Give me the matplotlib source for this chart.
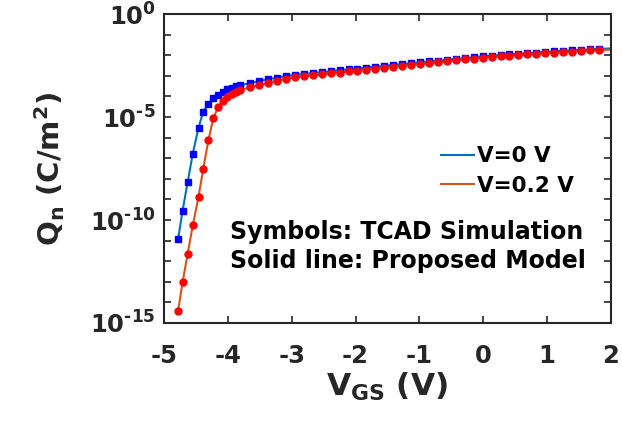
import numpy as np
import matplotlib
matplotlib.use('agg')
import matplotlib.pyplot as plt

plt.rcParams['font.family'] = ['DejaVu Sans']
plt.rcParams['font.weight'] = 'bold'
plt.rcParams['axes.labelweight'] = 'bold'
plt.rcParams['mathtext.fontset'] = 'custom'
plt.rcParams['mathtext.rm'] = 'DejaVu Sans:bold'
plt.rcParams['mathtext.bf'] = 'DejaVu Sans:bold'
plt.rcParams['mathtext.it'] = 'DejaVu Sans:bold'
plt.rcParams['mathtext.default'] = 'rm'

# gate voltage of the TCAD points (V)
vgs = [-4.78, -4.71, -4.63, -4.55, -4.46, -4.385, -4.305, -4.228, -4.15, -4.071,
       -4.009, -3.94, -3.873, -3.81, -3.65, -3.51, -3.37, -3.23, -3.09,
       -2.95, -2.81, -2.67, -2.53, -2.39, -2.25, -2.11, -1.97, -1.83, -1.69,
       -1.55, -1.41, -1.27, -1.13, -0.99, -0.85, -0.71, -0.57, -0.43, -0.29,
       -0.15, -0.01, 0.13, 0.27, 0.41, 0.55, 0.69, 0.83, 0.97, 1.11, 1.25,
       1.39, 1.53, 1.67, 1.81]

# log10(Qn) for V=0 V
logq_v0 = [-10.94, -9.55, -8.17, -6.78, -5.52, -4.74, -4.35, -4.10, -3.93, -3.79,
           -3.66, -3.57, -3.50, -3.45, -3.36, -3.25, -3.17, -3.09, -3.01,
           -2.96, -2.91, -2.87, -2.82, -2.78, -2.73, -2.69, -2.65, -2.60, -2.56,
           -2.52, -2.47, -2.43, -2.39, -2.35, -2.30, -2.26, -2.22, -2.18, -2.14,
           -2.10, -2.06, -2.02, -1.99, -1.96, -1.93, -1.90, -1.87, -1.84, -1.81,
           -1.78, -1.76, -1.74, -1.72, -1.69]

# log10(Qn) for V=0.2 V
logq_v02 = [-14.42, -13.03, -11.65, -10.26, -8.88, -7.50, -6.13, -5.06, -4.50, -4.22,
            -4.04, -3.90, -3.79, -3.69, -3.56, -3.45, -3.33, -3.24, -3.14,
            -3.07, -3.02, -2.98, -2.93, -2.88, -2.84, -2.79, -2.75, -2.70, -2.65,
            -2.61, -2.56, -2.52, -2.47, -2.43, -2.38, -2.34, -2.29, -2.25, -2.20,
            -2.16, -2.12, -2.07, -2.045, -2.02, -1.99, -1.96, -1.93, -1.90, -1.87,
            -1.84, -1.82, -1.80, -1.77, -1.75]

# model curve runs on to the axis edge
model_v = vgs + [2.0]
model_v0 = logq_v0 + [-1.67]
model_v02 = logq_v02 + [-1.73]

xticks = [-5, -4, -3, -2, -1, 0, 1, 2]
ydecades = list(range(-15, 1))

fig = plt.figure(figsize=(6.22, 4.25), dpi=100)
ax = fig.add_axes([0.2637, 0.24, 0.7186, 0.727])

q0 = 10.0 ** np.array(model_v0)
q2 = 10.0 ** np.array(model_v02)
l0, = ax.semilogy(model_v, q0, color='#0072BD', lw=1.5, label='V=0 V', zorder=2)
l2, = ax.semilogy(model_v, q2, color='#D95319', lw=1.5, label='V=0.2 V', zorder=2)
ax.semilogy(vgs, 10.0 ** np.array(logq_v0), 's', color='#0000FF', ms=4.2, zorder=3)
ax.semilogy(vgs, 10.0 ** np.array(logq_v02), 'o', color='#FF0000', ms=5, zorder=4)

ax.set_xlim(-5, 2)
ax.set_ylim(1e-15, 1)
ax.set_xticks(xticks)
ax.set_xticklabels([str(t) for t in xticks])
ax.set_yticks([10.0 ** d for d in ydecades])
ax.set_yticklabels([r'$10^{\text{%d}}$' % d if d % 5 == 0 else '' for d in ydecades])
ax.yaxis.set_minor_locator(matplotlib.ticker.NullLocator())

ax.tick_params(direction='in', top=True, right=True, length=5, width=1.2,
               labelsize=17.5, color='#262626', labelcolor='#262626')
ax.tick_params(axis='x', pad=15)
ax.tick_params(axis='y', pad=6)
for s in ax.spines.values():
    s.set_linewidth(1.5)
    s.set_color('#262626')

ax.set_xlabel(r'V$_{\mathrm{GS}}$ (V)', fontsize=22.5, color='#262626', labelpad=2)
ax.set_ylabel(r'Q$_{\mathrm{n}}$ (C/m$^{2}$)', fontsize=21, color='#262626', labelpad=16)

leg = ax.legend(handles=[l0, l2], loc='upper left', bbox_to_anchor=(0.6, 0.6),
                frameon=False, fontsize=15.5, handlelength=1.55, handletextpad=0.15,
                borderaxespad=0, labelspacing=0.45)
for t in leg.get_texts():
    t.set_fontweight('bold')

ax.text(0.148, 0.272, 'Symbols: TCAD Simulation', transform=ax.transAxes,
        fontsize=17, fontweight='bold', va='baseline')
ax.text(0.148, 0.178, 'Solid line: Proposed Model', transform=ax.transAxes,
        fontsize=17, fontweight='bold', va='baseline')

fig.savefig('out.png', dpi=100)
